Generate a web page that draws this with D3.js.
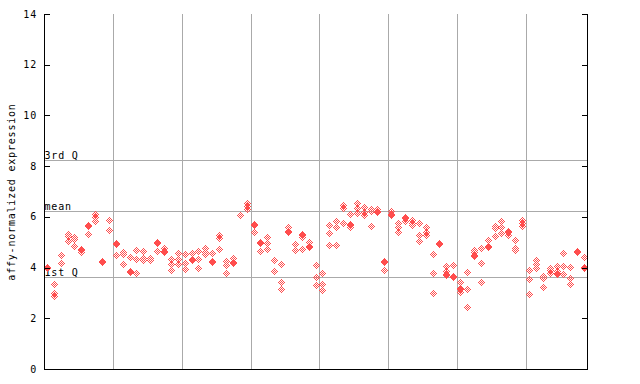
<!DOCTYPE html>
<html><head><meta charset="utf-8">
<script src="https://cdn.jsdelivr.net/npm/d3@7"></script>
<style>
html,body{margin:0;padding:0;background:#fff;}
text{font-family:"DejaVu Sans Mono",monospace;font-size:10px;letter-spacing:0.8px;fill:#000;}
</style></head>
<body>
<svg id="chart" width="640" height="384"></svg>
<script>
// ---- data ----
const samples = d3.range(1, 80).map(i => "S" + i);
const values = [
  [3.99,3.95],[3.34,2.98,2.86],[4.49,4.17],[5.31,5.22,5.02],[5.19,5.11,4.85],
  [4.72,4.68,4.58],[5.67,5.63,5.31],[6.08,5.98,5.82],[4.23,4.19],[5.86,5.47],
  [4.96,4.92,4.48],[4.60,4.50,4.13],[4.40,3.86,3.82],[4.68,4.33,3.77],[4.63,4.35,4.28],
  [4.37,4.29],[5.00,4.94,4.63],[4.74,4.63,4.59],[4.30,4.12,3.90],[4.55,4.33,4.14],
  [4.50,4.15,3.93],[4.56,4.33,4.26],[4.65,4.33,3.97],[4.76,4.60,4.50],[4.56,4.25,4.21],
  [5.28,5.15,4.73],[4.23,4.07,3.77],[4.36,4.20,4.16],[6.06],[6.53,6.40,6.30],
  [5.71,5.67,5.39],[5.00,4.93,4.65],[5.18,4.96,4.72],[4.26,3.85],[4.13,3.42,3.14],
  [5.57,5.44,5.40],[4.92,4.68],[5.30,5.26,5.18,4.72],[5.00,4.83,4.79],[4.09,3.60,3.30],
  [3.77,3.34,3.08],[5.64,5.36,4.89],[5.82,5.60,4.89],[6.46,6.31,5.75],[6.10,5.70,5.66,5.57],
  [6.53,6.34,6.14],[6.35,6.18,6.06],[6.30,6.20,5.63],[6.28,6.20,6.16],[4.23,4.19,3.89],
  [6.23,6.08,6.04],[5.75,5.57,5.37],[5.97,5.93,5.81],[5.85,5.75,5.64],[5.72,5.26,5.03],
  [5.59,5.37,5.27],[4.50,3.77,2.98],[4.94,4.90],[4.03,3.86,3.74,3.70],[4.10,3.66,3.62],
  [3.42,3.16,3.12,3.03],[3.81,3.14,2.43],[4.69,4.60,4.48,4.44],[4.76,4.17,3.42],[5.07,4.84,4.80],
  [5.61,5.55,5.24],[5.80,5.60,5.35],[5.44,5.40,5.28],[5.07,4.76,4.67],[5.85,5.75,5.61],
  [3.90,3.51,2.94],[4.26,4.14,3.96],[3.64,3.55,3.22],[3.96,3.88,3.75],[4.06,3.84,3.77,3.73],
  [4.56,4.06,3.71],[4.01,3.55,3.34],[4.65,4.59],[4.40,3.99,3.95]
];
const groupSize = 10;
const refNames = ["3rd Q", "mean", "1st Q"];
const refValues = [8.23, 6.23, 3.63];
const yTicks = [0, 2, 4, 6, 8, 10, 12, 14];
const yLabel = "affy-normalized expression";

// ---- layout ----
const svg = d3.select("#chart");
const L = 44, R = 588, T = 14, B = 369;
const red = "#ff4d4d";
const x = d3.scaleBand().domain(samples).range([L, R]).paddingInner(0).paddingOuter(0);
const y = d3.scaleLinear().domain([0, 14]).range([B, T]);

const defs = svg.append("defs");
const pat = defs.append("pattern").attr("id", "chk").attr("patternUnits", "userSpaceOnUse")
  .attr("width", 2).attr("height", 2);
pat.append("rect").attr("x", 1).attr("y", 0).attr("width", 1).attr("height", 1).attr("fill", red).attr("shape-rendering","crispEdges");
pat.append("rect").attr("x", 0).attr("y", 1).attr("width", 1).attr("height", 1).attr("fill", red).attr("shape-rendering","crispEdges");

// vertical group separators
const sepIdx = d3.range(groupSize, samples.length, groupSize);
svg.append("g").selectAll("line").data(sepIdx).join("line")
  .attr("x1", i => Math.round(x(samples[i])) + 0.5).attr("x2", i => Math.round(x(samples[i])) + 0.5)
  .attr("y1", T).attr("y2", B)
  .attr("stroke", "#aaaaaa").attr("stroke-width", 1).attr("shape-rendering","crispEdges");

// reference lines
svg.append("g").selectAll("line").data(refValues).join("line")
  .attr("x1", L).attr("x2", R)
  .attr("y1", d => Math.round(y(d)) + 0.5).attr("y2", d => Math.round(y(d)) + 0.5)
  .attr("stroke", "#aaaaaa").attr("stroke-width", 1).attr("shape-rendering","crispEdges");
svg.append("g").selectAll("text").data(refValues).join("text")
  .attr("x", L + 0.5).attr("y", d => Math.round(y(d)) - 1)
  .text((d, i) => refNames[i]);

// points
const pts = [];
values.forEach((arr, i) => arr.forEach(v => pts.push({s: samples[i], v})));
svg.append("g").selectAll("path").data(pts).join("path")
  .attr("transform", d => `translate(${Math.floor(x(d.s) + x.bandwidth() / 2)},${Math.floor(y(d.v))})`)
  .attr("d", "M0.5,-3L4,0.5L0.5,4L-3,0.5Z")
  .attr("fill", "url(#chk)")
  .attr("shape-rendering", "crispEdges");

// axes frame
const ax = svg.append("g").attr("stroke", "#000").attr("stroke-width", 1).attr("shape-rendering","crispEdges");
ax.append("line").attr("x1", L + 0.5).attr("x2", L + 0.5).attr("y1", T).attr("y2", B + 1);
ax.append("line").attr("x1", R - 0.5).attr("x2", R - 0.5).attr("y1", T).attr("y2", B + 1);
ax.append("line").attr("x1", L).attr("x2", R).attr("y1", B + 0.5).attr("y2", B + 0.5);
ax.selectAll("line.tl").data(yTicks).join("line").attr("class","tl")
  .attr("x1", L).attr("x2", L + 6).attr("y1", d => Math.round(y(d)) + 0.5).attr("y2", d => Math.round(y(d)) + 0.5);
ax.selectAll("line.tr").data(yTicks).join("line").attr("class","tr")
  .attr("x1", R - 6).attr("x2", R).attr("y1", d => Math.round(y(d)) + 0.5).attr("y2", d => Math.round(y(d)) + 0.5);

svg.append("g").selectAll("text").data(yTicks).join("text")
  .attr("x", 37).attr("y", d => y(d)).attr("dy", "0.35em")
  .attr("text-anchor", "end").text(d => d);

svg.append("text")
  .attr("transform", "translate(15,192) rotate(-90)")
  .attr("text-anchor", "middle")
  .text(yLabel);
</script>
</body></html>
